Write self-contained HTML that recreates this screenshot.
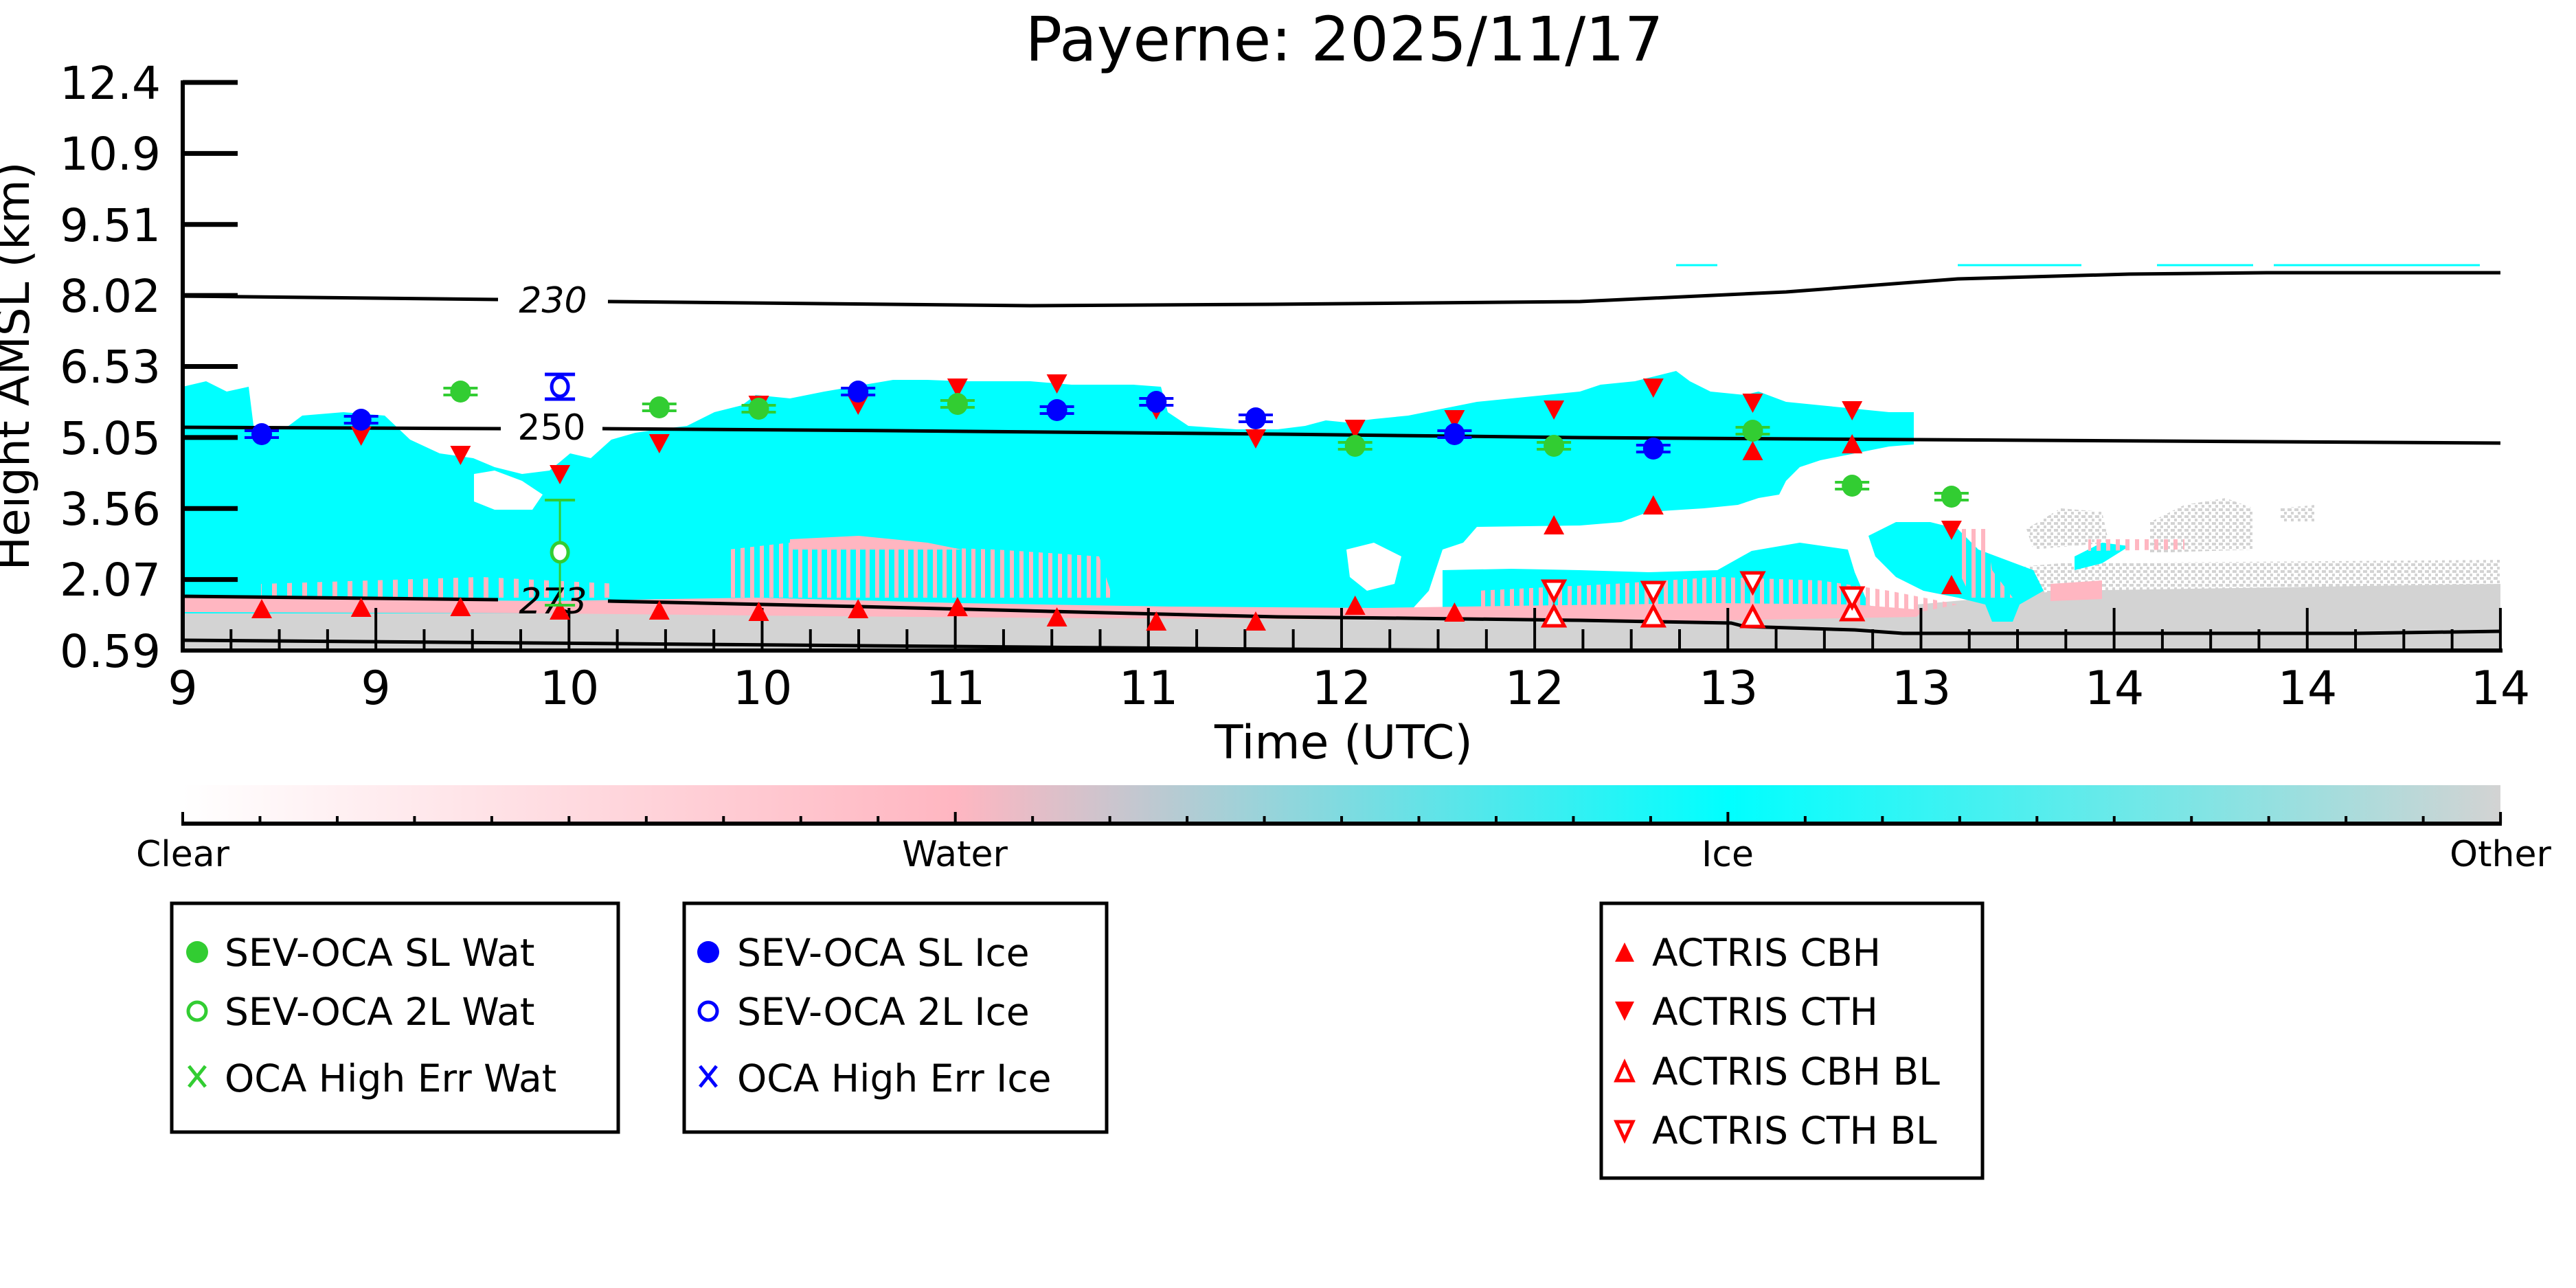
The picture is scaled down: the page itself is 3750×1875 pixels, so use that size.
<!DOCTYPE html>
<html><head><meta charset="utf-8"><style>
html,body{margin:0;padding:0;background:#fff;}
svg{display:block;}
text{font-family:"DejaVu Sans","Liberation Sans",sans-serif;fill:#000;}
</style></head><body>
<svg width="3750" height="1875" viewBox="0 0 3750 1875" xmlns="http://www.w3.org/2000/svg">
<defs>
<linearGradient id="cb" x1="0" x2="1" y1="0" y2="0">
<stop offset="0" stop-color="#ffffff"/>
<stop offset="0.333" stop-color="#ffb6c1"/>
<stop offset="0.667" stop-color="#00ffff"/>
<stop offset="1" stop-color="#d3d3d3"/>
</linearGradient>
<pattern id="ps" width="14" height="40" patternUnits="userSpaceOnUse">
<rect x="0" y="0" width="6" height="40" fill="#ffb6c1"/>
</pattern>
<pattern id="ps2" width="22" height="30" patternUnits="userSpaceOnUse">
<rect x="0" y="0" width="7" height="30" fill="#ffb6c1"/>
</pattern>
<pattern id="gs" width="10" height="10" patternUnits="userSpaceOnUse">
<rect x="0" y="0" width="6" height="4" fill="#d3d3d3"/>
<rect x="5" y="5" width="4" height="4" fill="#d3d3d3"/>
</pattern>
</defs>
<rect width="3750" height="1875" fill="#fff"/>
<text x="1957" y="88" font-size="89" text-anchor="middle">Payerne: 2025/11/17</text>

<!-- gray base -->
<polygon fill="#d3d3d3" points="266,888 1000,888 1800,893 2100,895 2500,900 2790,895 2790,880 2900,870 3000,860 3640,850 3640,947 266,947"/>
<polygon fill="url(#gs)" points="2880,830 3000,820 3640,815 3640,850 2880,870"/>
<polygon fill="url(#gs)" points="3130,760 3180,735 3240,725 3280,740 3280,800 3130,805"/>
<polygon fill="url(#gs)" points="2950,770 3000,740 3060,745 3070,790 2960,800"/>
<polygon fill="url(#gs)" points="3320,740 3370,735 3370,760 3320,760"/>

<!-- cyan main -->
<polygon fill="#00ffff" points="266,563 300,555 330,570 362,563 370,627 420,620 440,605 500,600 560,605 597,640 640,660 689,667 720,680 760,690 800,685 830,660 860,667 890,640 925,630 960,625 1000,620 1040,600 1080,590 1100,575 1150,580 1200,570 1300,553 1350,553 1400,555 1500,555 1560,560 1650,560 1690,563 1700,600 1730,620 1800,625 1860,625 1900,620 1930,612 1960,615 2000,610 2050,605 2100,595 2150,585 2200,580 2250,575 2300,570 2330,560 2380,555 2420,545 2440,540 2460,555 2490,570 2540,575 2560,570 2600,585 2650,590 2700,595 2750,600 2786,600 2786,647 2750,650 2700,660 2650,670 2620,680 2600,700 2590,720 2560,725 2530,735 2480,740 2400,745 2360,760 2300,765 2150,767 2130,790 2100,800 2080,860 2050,893 266,893"/>
<polygon fill="#fff" points="690,690 720,685 760,700 790,720 775,742 720,742 690,730"/>
<polygon fill="#fff" points="1960,800 2000,790 2040,810 2030,850 1990,860 1965,840"/>
<polygon fill="#00ffff" points="2100,830 2200,828 2300,830 2400,833 2500,830 2550,802 2620,790 2690,800 2700,833 2720,880 2740,893 2100,893"/>
<polygon fill="#00ffff" points="2720,780 2760,760 2810,760 2850,770 2880,800 2960,830 2975,860 2940,880 2930,905 2900,905 2890,880 2850,870 2800,860 2760,840 2730,810"/>
<polygon fill="#00ffff" points="3020,810 3060,790 3100,795 3060,820 3020,830"/>

<!-- pink -->
<polygon fill="#ffb6c1" points="266,870 500,872 800,875 1100,870 1400,878 1700,883 2000,885 2200,882 2500,878 2700,880 2800,888 2790,898 2400,905 2000,902 1600,900 1200,897 800,893 266,891"/>
<polygon fill="url(#ps)" points="1060,800 1150,790 1300,795 1450,800 1600,810 1620,870 1060,870"/>
<polygon fill="url(#ps2)" points="380,850 700,840 900,850 900,870 380,870"/>
<polygon fill="#ffb6c1" points="1150,785 1250,780 1350,790 1400,800 1300,800 1150,800"/>
<polygon fill="url(#ps)" points="2150,860 2350,850 2500,840 2650,845 2750,860 2850,880 2800,890 2150,890"/>
<polygon fill="url(#ps)" points="2850,770 2890,770 2900,830 2930,870 2870,870 2850,830"/>
<polygon fill="#ffb6c1" points="2985,850 3060,845 3060,872 2985,875"/>
<polygon fill="url(#ps)" points="3040,785 3180,785 3180,800 3040,802"/>

<g stroke="#00ffff" stroke-width="3">
<line x1="2440" y1="386" x2="2500" y2="386"/>
<line x1="2850" y1="386" x2="3030" y2="386"/>
<line x1="3140" y1="386" x2="3280" y2="386"/>
<line x1="3310" y1="386" x2="3610" y2="386"/>
</g>

<g fill="none" stroke="#000" stroke-width="5">
<polyline points="266,431 725,436"/>
<polyline points="885,439 1500,445 1850,443 2300,439 2600,425 2850,406 3100,399 3300,397 3640,397"/>
<polyline points="266,622 729,624"/>
<polyline points="877,624 1300,627 1860,632 2300,637 2790,640 3640,645"/>
<polyline points="266,868 725,873"/>
<polyline points="885,875 1250,883 1650,893 1860,898 2050,900 2300,903 2520,907 2540,912 2700,917 2770,922 3430,922 3640,919"/>
<polyline points="266,932 900,937 1500,942 1860,945 2200,947"/>
</g>
<text x="805" y="455" font-size="52" font-style="italic" text-anchor="middle">230</text>
<text x="803" y="640" font-size="52" text-anchor="middle">250</text>
<text x="805" y="893" font-size="52" font-style="italic" text-anchor="middle">273</text>

<g stroke="#000">
<line x1="266" y1="117" x2="266" y2="950" stroke-width="6"/>
<line x1="263" y1="947" x2="3643" y2="947" stroke-width="6"/>
<g stroke-width="7">
<line x1="266" y1="120" x2="346" y2="120"/>
<line x1="266" y1="223.4" x2="346" y2="223.4"/>
<line x1="266" y1="326.8" x2="346" y2="326.8"/>
<line x1="266" y1="430.1" x2="346" y2="430.1"/>
<line x1="266" y1="533.5" x2="346" y2="533.5"/>
<line x1="266" y1="636.9" x2="346" y2="636.9"/>
<line x1="266" y1="740.3" x2="346" y2="740.3"/>
<line x1="266" y1="843.6" x2="346" y2="843.6"/>
</g>
<g stroke-width="4" id="xt"></g>
</g>
<g font-size="66" text-anchor="end">
<text x="234" y="144">12.4</text>
<text x="234" y="247">10.9</text>
<text x="234" y="351">9.51</text>
<text x="234" y="454">8.02</text>
<text x="234" y="557">6.53</text>
<text x="234" y="661">5.05</text>
<text x="234" y="764">3.56</text>
<text x="234" y="867">2.07</text>
<text x="234" y="971">0.59</text>
</g>
<text transform="translate(42,533) rotate(-90)" font-size="66" text-anchor="middle">Height AMSL (km)</text>
<g font-size="68" text-anchor="middle">
<text x="266" y="1025">9</text><text x="547" y="1025">9</text><text x="829" y="1025">10</text><text x="1110" y="1025">10</text><text x="1391" y="1025">11</text><text x="1672" y="1025">11</text><text x="1953" y="1025">12</text><text x="2234" y="1025">12</text><text x="2516" y="1025">13</text><text x="2797" y="1025">13</text><text x="3078" y="1025">14</text><text x="3359" y="1025">14</text><text x="3640" y="1025">14</text>
</g>
<text x="1956" y="1104" font-size="68" text-anchor="middle">Time (UTC)</text>

<g id="mk"></g>

<rect x="266" y="1143" width="3374" height="56" fill="url(#cb)"/>
<line x1="264" y1="1199" x2="3642" y2="1199" stroke="#000" stroke-width="6"/>
<g id="cbt" stroke="#000" stroke-width="4"></g>
<g font-size="52" text-anchor="middle">
<text x="266" y="1261">Clear</text><text x="1390" y="1261">Water</text><text x="2515" y="1261">Ice</text><text x="3640" y="1261">Other</text>
</g>

<g fill="none" stroke="#000" stroke-width="5">
<rect x="250" y="1315" width="650" height="333"/>
<rect x="996" y="1315" width="615" height="333"/>
<rect x="2331" y="1315" width="555" height="400"/>
</g>
<g font-size="55">
<text x="327" y="1406">SEV-OCA SL Wat</text>
<text x="327" y="1492">SEV-OCA 2L Wat</text>
<text x="327" y="1589">OCA High Err Wat</text>
<text x="1073" y="1406">SEV-OCA SL Ice</text>
<text x="1073" y="1492">SEV-OCA 2L Ice</text>
<text x="1073" y="1589">OCA High Err Ice</text>
<text x="2405" y="1406">ACTRIS CBH</text>
<text x="2405" y="1492">ACTRIS CTH</text>
<text x="2405" y="1579">ACTRIS CBH BL</text>
<text x="2405" y="1665">ACTRIS CTH BL</text>
</g>
<circle cx="287" cy="1386" r="16" fill="#32cd32"/>
<circle cx="287" cy="1472" r="13" fill="none" stroke="#32cd32" stroke-width="5"/>
<path d="M275,1552 L299,1582 M299,1552 L275,1582" stroke="#32cd32" stroke-width="5"/>
<circle cx="1031" cy="1386" r="16" fill="#0000ff"/>
<circle cx="1031" cy="1472" r="13" fill="none" stroke="#0000ff" stroke-width="5"/>
<path d="M1019,1552 L1043,1582 M1043,1552 L1019,1582" stroke="#0000ff" stroke-width="5"/>
<polygon points="2351,1400 2379,1400 2365,1372" fill="#ff0000"/>
<polygon points="2351,1458 2379,1458 2365,1486" fill="#ff0000"/>
<polygon points="2353,1573 2377,1573 2365,1547" fill="#fff" stroke="#ff0000" stroke-width="5"/>
<polygon points="2353,1633 2377,1633 2365,1659" fill="#fff" stroke="#ff0000" stroke-width="5"/>
</svg>
<script>
var NS="http://www.w3.org/2000/svg";
function el(p,t,a){var e=document.createElementNS(NS,t);for(var k in a)e.setAttribute(k,a[k]);p.appendChild(e);return e;}
var xt=document.getElementById("xt");
for(var i=1;i<=48;i++){var x=266+70.29*i;var maj=(i%4==0);el(xt,"line",{x1:x,y1:maj?885:916,x2:x,y2:947});}
var cbt=document.getElementById("cbt");
for(var i=0;i<=30;i++){var x=266+112.47*i;var maj=(i%10==0);el(cbt,"line",{x1:x,y1:maj?1182:1188,x2:x,y2:1199});}
var mk=document.getElementById("mk");
function X(k){return 381+144.7*k;}
function up(k,y,hol){var x=X(k);el(mk,"polygon",{points:(x-15)+","+(y+14)+" "+(x+15)+","+(y+14)+" "+x+","+(y-14),fill:hol?"#fff":"#ff0000",stroke:hol?"#ff0000":"none","stroke-width":5});}
function dn(k,y,hol){var x=X(k);el(mk,"polygon",{points:(x-15)+","+(y-14)+" "+(x+15)+","+(y-14)+" "+x+","+(y+14),fill:hol?"#fff":"#ff0000",stroke:hol?"#ff0000":"none","stroke-width":5});}
function dot(k,y,c){var x=X(k);el(mk,"ellipse",{cx:x,cy:y,rx:15,ry:16,fill:c});el(mk,"line",{x1:x-25,y1:y-5,x2:x+25,y2:y-5,stroke:c,"stroke-width":4});el(mk,"line",{x1:x-25,y1:y+5,x2:x+25,y2:y+5,stroke:c,"stroke-width":4});}
[[0,886],[1,884],[2,883],[3,888],[4,888],[5,890],[6,886],[7,883],[8,898],[9,904],[10,904],[11,881],[12,891],[13,764],[14,735],[15,656],[16,646],[17,851]].forEach(function(a){up(a[0],a[1]);});
[[1,635],[2,663],[3,691],[4,646],[5,590],[6,590],[7,565],[8,559],[9,597],[10,639],[11,625],[12,611],[13,597],[14,565],[15,587],[16,598],[17,772]].forEach(function(a){dn(a[0],a[1]);});
[[13,897],[14,897],[15,898],[16,888]].forEach(function(a){up(a[0],a[1],1);});
[[13,860],[14,862],[15,848],[16,870]].forEach(function(a){dn(a[0],a[1],1);});
[[0,632],[1,611],[6,570],[8,597],[9,585],[10,609],[12,632],[14,653]].forEach(function(a){dot(a[0],a[1],"#0000ff");});
[[2,570],[4,593],[5,595],[7,588],[11,649],[13,649],[15,627],[16,707],[17,723]].forEach(function(a){dot(a[0],a[1],"#32cd32");});
var x=X(3);
el(mk,"line",{x1:x,y1:545,x2:x,y2:581,stroke:"#0000ff","stroke-width":4});
el(mk,"line",{x1:x-22,y1:545,x2:x+22,y2:545,stroke:"#0000ff","stroke-width":5});
el(mk,"line",{x1:x-22,y1:581,x2:x+22,y2:581,stroke:"#0000ff","stroke-width":5});
el(mk,"ellipse",{cx:x,cy:563,rx:12,ry:14,fill:"#fff",stroke:"#0000ff","stroke-width":5});
el(mk,"line",{x1:x,y1:728,x2:x,y2:881,stroke:"#32cd32","stroke-width":3});
el(mk,"line",{x1:x-22,y1:728,x2:x+22,y2:728,stroke:"#32cd32","stroke-width":4});
el(mk,"line",{x1:x-22,y1:881,x2:x+22,y2:881,stroke:"#32cd32","stroke-width":4});
el(mk,"ellipse",{cx:x,cy:804,rx:12,ry:14,fill:"#fff",stroke:"#32cd32","stroke-width":5});
</script>
</body></html>
